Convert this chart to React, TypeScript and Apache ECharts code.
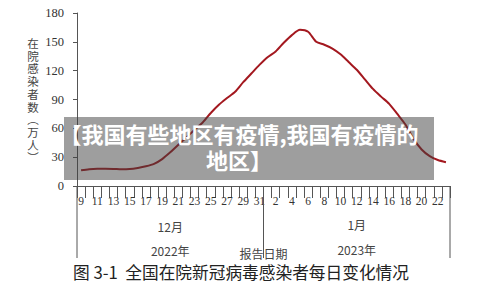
import React, { useEffect, useRef } from "react";
import * as echarts from "echarts";

const days = [
  "9", "10", "11", "12", "13", "14", "15", "16", "17", "18", "19", "20", "21", "22", "23",
  "24", "25", "26", "27", "28", "29", "30", "31",
  "1", "2", "3", "4", "5", "6", "7", "8", "9", "10", "11", "12", "13", "14", "15", "16",
  "17", "18", "19", "20", "21", "22", "23",
];
const inpatients = [
  16.4, 17.5, 18, 18, 17.8, 17.3, 17.6, 18.8, 20.5, 23, 28, 35, 43, 50.5, 58.5, 66,
  76, 84.5, 91.5, 98, 108, 117, 126,
  134, 140, 149, 157, 162.5, 160.5, 150, 147, 143, 137, 129, 121, 111, 101, 93, 85.5,
  75, 64, 49, 38, 31, 27, 24.8,
];
const labelledIdx = [0, 27, 45];
const months = ["12月", "1月"];
const years = ["2022年", "2023年"];
const monthSplitIdx = 23; // first category of January
const yMin = 0;
const yMax = 180;
const yStep = 30;
const yNameChars = ["在", "院", "感", "染", "者", "数", "︵", "万", "人", "︶"];
const xName = "报告日期";
const title = "图 3-1  全国在院新冠病毒感染者每日变化情况";
const overlayText = "【我国有些地区有疫情,我国有疫情的\n地区】";

const SERIF = "'Liberation Serif', 'DejaVu Serif', serif";
const CJK = "'Noto Sans CJK SC', sans-serif";

export default function App() {
  const ref = useRef<HTMLDivElement>(null);
  useEffect(() => {
    if (!ref.current) return;
    const chart = echarts.init(ref.current, null, { renderer: "svg" });
    chart.setOption({
      animation: false,
      backgroundColor: "#ffffff",
      grid: { left: 77, right: 50, top: 13, bottom: 112, containLabel: false },
      xAxis: {
        type: "category",
        data: days,
        boundaryGap: true,
        axisLine: { show: true, lineStyle: { color: "#555", width: 1 } },
        axisTick: { show: true, interval: 0, length: 12, lineStyle: { color: "#555" } },
        axisLabel: {
          interval: 1,
          margin: 9,
          fontSize: 11.5,
          fontFamily: SERIF,
          color: "#333",
        },
      },
      yAxis: {
        type: "value",
        min: yMin,
        max: yMax,
        interval: yStep,
        splitLine: { show: false },
        axisLine: { show: true, lineStyle: { color: "#555", width: 1 } },
        axisTick: { show: true, length: 4, lineStyle: { color: "#555" } },
        axisLabel: { margin: 13, fontSize: 12.5, fontFamily: SERIF, color: "#333" },
      },
      series: [
        {
          type: "line",
          data: inpatients.map((v, i) => {
            if (!labelledIdx.includes(i)) return v;
            const first = i === 0;
            return {
              value: v,
              label: {
                show: true,
                position: "top",
                distance: first ? 2 : 7,
                offset: first ? [13, 0] : [0, 0],
                formatter: String(v),
                fontSize: 12.5,
                fontFamily: SERIF,
                color: "#222",
              },
            };
          }),
          showSymbol: false,
          symbol: "none",
          smooth: 0.25,
          lineStyle: { color: "#a3181f", width: 2 },
          z: 2,
        },
      ],
    });

    const xAt = (i: number) => chart.convertToPixel({ xAxisIndex: 0 }, i) as number;
    const band = xAt(1) - xAt(0);
    const xStart = xAt(0) - band / 2;
    const xSplit = (xAt(monthSplitIdx - 1) + xAt(monthSplitIdx)) / 2;
    const xEnd = xAt(days.length - 1) + band / 2;
    const yAxisPx = chart.convertToPixel({ yAxisIndex: 0 }, 0) as number;
    const yBottom = yAxisPx + 72;
    const lineStyle = { stroke: "#555", lineWidth: 1 };
    const txt = (text: string, x: number, y: number, font: string, fill = "#444", z = 5) => ({
      type: "text", x, y, z,
      style: { text, font, fill, align: "center", verticalAlign: "middle" },
    });

    chart.setOption({
      graphic: [
        { type: "line", shape: { x1: xStart, y1: yAxisPx, x2: xStart, y2: yBottom }, style: lineStyle, z: 5 },
        { type: "line", shape: { x1: xSplit, y1: yAxisPx, x2: xSplit, y2: yBottom }, style: lineStyle, z: 5 },
        { type: "line", shape: { x1: xEnd, y1: yAxisPx, x2: xEnd, y2: yBottom }, style: lineStyle, z: 5 },
        txt(months[0], (xStart + xSplit) / 2, yAxisPx + 40, `12px ${CJK}`),
        txt(months[1], (xSplit + xEnd) / 2, yAxisPx + 38, `12px ${CJK}`),
        txt(years[0], (xStart + xSplit) / 2, yAxisPx + 64, `12px ${CJK}`),
        txt(years[1], (xSplit + xEnd) / 2, yAxisPx + 63, `12px ${CJK}`),
        txt(xName, xSplit, yAxisPx + 67, `12px ${CJK}`, "#444", 6),
        ...yNameChars.map((c, k) => txt(c, 33, 43 + k * 12.7, `11.5px ${CJK}`)),
        txt(title, 241, 272, `16.7px ${CJK}`, "#222"),
        {
          type: "rect", shape: { x: 64, y: 117, width: 370, height: 63 },
          style: { fill: "rgba(62,62,62,0.5)" }, z: 50,
        },
        {
          type: "text", x: 239, y: 146,
          style: {
            text: overlayText, font: `bold 22px ${CJK}`, fill: "#ffffff", align: "center",
            verticalAlign: "middle", lineHeight: 26,
          },
          z: 51,
        },
      ],
    });
    return () => chart.dispose();
  }, []);
  return <div ref={ref} style={{ width: 500, height: 298, position: "absolute", left: 0, top: 0 }} />;
}
